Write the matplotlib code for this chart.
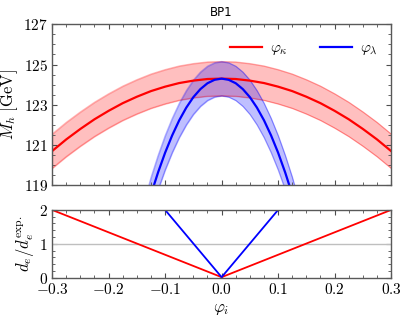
import matplotlib
matplotlib.use("Agg")
import matplotlib.pyplot as plt
import numpy as np
from matplotlib.ticker import AutoMinorLocator, FuncFormatter

plt.rcParams['mathtext.fontset'] = 'cm'
plt.rcParams['font.family'] = 'serif'
plt.rcParams['font.serif'] = ['DejaVu Serif']

# M_h vs phi_kappa
phi_k = [-0.3, -0.275, -0.25, -0.225, -0.2, -0.175, -0.15, -0.125, -0.1, -0.075, -0.05, -0.025,
         0.0, 0.025, 0.05, 0.075, 0.1, 0.125, 0.15, 0.175, 0.2, 0.225, 0.25, 0.275, 0.3]
mh_k = [120.70, 121.28, 121.80, 122.28, 122.70, 123.08, 123.40, 123.68, 123.90, 124.08, 124.20, 124.28,
        124.30, 124.28, 124.20, 124.08, 123.90, 123.68, 123.40, 123.08, 122.70, 122.28, 121.80, 121.28, 120.70]
err_k = 0.85

# M_h vs phi_lambda
phi_l = [-0.15, -0.125, -0.1125, -0.1, -0.0875, -0.075, -0.0625, -0.05, -0.0375, -0.025, -0.0125,
         0.0, 0.0125, 0.025, 0.0375, 0.05, 0.0625, 0.075, 0.0875, 0.1, 0.1125, 0.125, 0.15]
mh_l = [116.02, 118.55, 119.64, 120.62, 121.48, 122.23, 122.86, 123.38, 123.78, 124.07, 124.24,
        124.30, 124.24, 124.07, 123.78, 123.38, 122.86, 122.23, 121.48, 120.62, 119.64, 118.55, 116.02]
err_l = 0.85

# d_e / d_e^exp
de_phi_k = [-0.3, 0.0, 0.3]
de_k = [2.0, 0.02, 2.0]
de_phi_l = [-0.1, 0.0, 0.1]
de_l = [2.0, 0.02, 2.0]

fig = plt.figure(figsize=(4.07, 3.19), dpi=100)
ax1 = fig.add_axes([0.128, 0.419, 0.833, 0.505])
ax2 = fig.add_axes([0.128, 0.129, 0.833, 0.213])

mh_k = np.array(mh_k)
mh_l = np.array(mh_l)
ax1.fill_between(phi_k, mh_k - err_k, mh_k + err_k, color='red', alpha=0.25, lw=0.8)
ax1.plot(phi_k, mh_k - err_k, color='red', alpha=0.25, lw=0.8)
ax1.plot(phi_k, mh_k + err_k, color='red', alpha=0.25, lw=0.8)
ax1.fill_between(phi_l, mh_l - err_l, mh_l + err_l, color='blue', alpha=0.25, lw=0.8)
ax1.plot(phi_l, mh_l - err_l, color='blue', alpha=0.25, lw=0.8)
ax1.plot(phi_l, mh_l + err_l, color='blue', alpha=0.25, lw=0.8)
ax1.plot(phi_k, mh_k, color='red', lw=1.6, label=r'$\varphi_\kappa$')
ax1.plot(phi_l, mh_l, color='blue', lw=1.6, label=r'$\varphi_\lambda$')
ax1.set_xlim(-0.3, 0.3)
ax1.set_ylim(119, 127)
ax1.set_yticks([119, 121, 123, 125, 127])
ax1.set_ylabel(r'$M_h\ [\mathrm{GeV}]$', fontsize=12, labelpad=2)
ax1.set_xticklabels([])
ax1.set_title('BP1', fontsize=8.5, family='DejaVu Sans', pad=6)
ax1.legend(loc='upper right', ncol=2, frameon=False, fontsize=11, handlelength=2.1,
           columnspacing=2.1, handletextpad=0.5, bbox_to_anchor=(1.0, 0.98))

ax2.axhline(1.0, color='0.75', lw=1.0)
ax2.plot(de_phi_k, de_k, color='red', lw=1.3)
ax2.plot(de_phi_l, de_l, color='blue', lw=1.3)
ax2.set_xlim(-0.3, 0.3)
ax2.set_ylim(0, 2)
ax2.set_yticks([0, 1, 2])
ax2.set_xticks([-0.3, -0.2, -0.1, 0.0, 0.1, 0.2, 0.3])
ax2.set_ylabel(r'$d_e/d_e^{\rm exp.}$', fontsize=12, labelpad=2)
ax2.set_xlabel(r'$\varphi_i$', fontsize=12, labelpad=2)

fmt_int = FuncFormatter(lambda v, p: r'$%d$' % v)
fmt_x = FuncFormatter(lambda v, p: r'$%.1f$' % v if abs(v) > 1e-9 else r'$0.0$')
ax1.yaxis.set_major_formatter(fmt_int)
ax2.yaxis.set_major_formatter(fmt_int)
ax2.xaxis.set_major_formatter(fmt_x)

for ax in (ax1, ax2):
    ax.xaxis.set_minor_locator(AutoMinorLocator(4))
    ax.yaxis.set_minor_locator(AutoMinorLocator(4 if ax is ax1 else 5))
    ax.tick_params(which='both', direction='in', top=True, right=True, labelsize=11,
                   color='0.3', pad=3)
    ax.tick_params(which='major', length=3.5, width=0.8)
    ax.tick_params(which='minor', length=2, width=0.6)
    for s in ax.spines.values():
        s.set_color('0.35')
        s.set_linewidth(1.0)

fig.savefig('out.png', dpi=100)
